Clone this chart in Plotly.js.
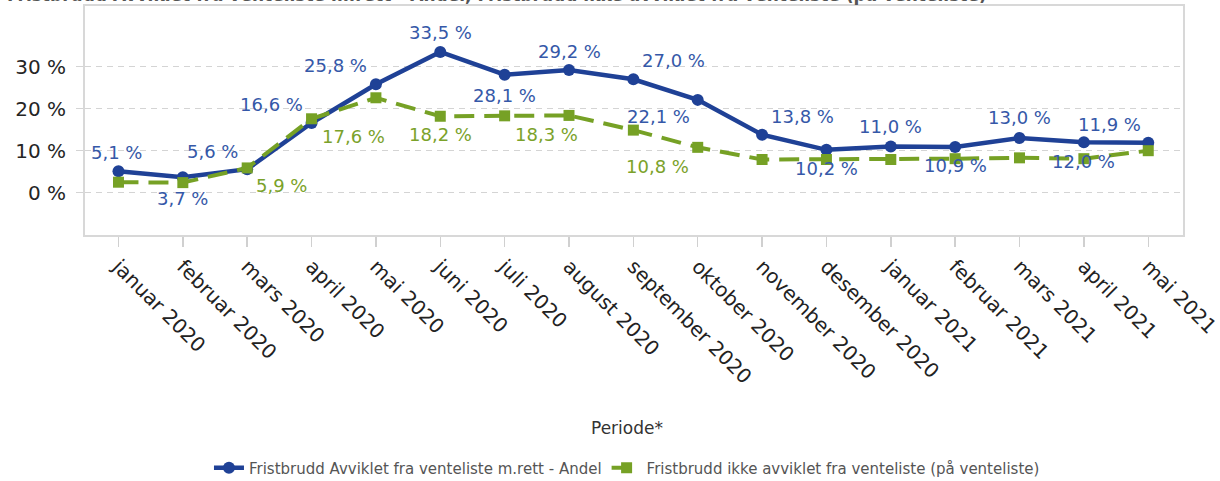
<!DOCTYPE html>
<html>
<head>
<meta charset="utf-8">
<script src="https://cdn.plot.ly/plotly-3.0.1.min.js"></script>
<style>
  html, body { margin: 0; padding: 0; background: #fff; }
  #chart { width: 1220px; height: 481px; }
</style>
</head>
<body>
<div id="chart"></div>
<script>
// Months on the category axis
const periods = [
  'januar 2020', 'februar 2020', 'mars 2020', 'april 2020', 'mai 2020', 'juni 2020',
  'juli 2020', 'august 2020', 'september 2020', 'oktober 2020', 'november 2020',
  'desember 2020', 'januar 2021', 'februar 2021', 'mars 2021', 'april 2021', 'mai 2021'
];

// Share of deadline breaches, percent
const avvikletAndel = [5.1, 3.7, 5.6, 16.6, 25.8, 33.5, 28.1, 29.2, 27.0, 22.1, 13.8, 10.2, 11.0, 10.9, 13.0, 12.0, 11.9];
const ikkeAvviklet  = [2.5, 2.4, 5.9, 17.6, 22.6, 18.2, 18.3, 18.4, 14.9, 10.8, 7.9, 7.9, 7.9, 8.1, 8.3, 8.1, 10.0];

// Months whose green value carries a text label
const ikkeAvvikletLabelled = [2, 3, 5, 6, 9];

const seriesNames = [
  'Fristbrudd Avviklet fra venteliste m.rett - Andel',
  'Fristbrudd ikke avviklet fra venteliste (på venteliste)'
];
const yTicks = [0, 10, 20, 30];
const yTickText = ['0 %', '10 %', '20 %', '30 %'];
const chartTitle = 'Fristbrudd Avviklet fra venteliste m.rett - Andel, Fristbrudd ikke avviklet fra venteliste (på venteliste)';

// Label placement (pixel offsets from each point): [xshift, yshift]
const blueOffsets = [
  [-2, 19], [0, -21], [-35, 18], [-40, 18], [-40, 19], [0, 19], [0, -21], [0, 19], [40, 19],
  [-39, -17], [40, 18], [0, -19], [0, 20], [0, -19], [0, 21], [0, -19], [-39, 18]
];
const greenOffsets = { 2: [34, -18], 3: [42, -18], 5: [0, -18], 6: [42, -19], 9: [-40, -19] };

const BLUE = '#1f4196';
const BLUE_TXT = '#3558a8';
const GREEN = '#76a125';
const GREEN_TXT = '#7ba22a';
const FONT = 'DejaVu Sans, Verdana, sans-serif';

const fmt = v => v.toFixed(1).replace('.', ',') + ' %';

const traces = [
  {
    x: periods, y: avvikletAndel, name: seriesNames[0], type: 'scatter', mode: 'lines+markers',
    line: { color: BLUE, width: 4.5 },
    marker: { color: BLUE, size: 12, symbol: 'circle' },
    hoverinfo: 'skip'
  },
  {
    x: periods, y: ikkeAvviklet, name: seriesNames[1], type: 'scatter', mode: 'lines+markers',
    line: { color: GREEN, width: 4, dash: '20px,10px' },
    marker: { color: GREEN, size: 11, symbol: 'square' },
    hoverinfo: 'skip'
  }
];

const annotations = [];
avvikletAndel.forEach((v, i) => {
  annotations.push({
    xref: 'x', yref: 'y', x: periods[i], y: v, text: fmt(v), showarrow: false,
    xshift: blueOffsets[i][0], yshift: blueOffsets[i][1],
    font: { family: FONT, size: 18, color: BLUE_TXT }
  });
});
ikkeAvvikletLabelled.forEach(i => {
  annotations.push({
    xref: 'x', yref: 'y', x: periods[i], y: ikkeAvviklet[i], text: fmt(ikkeAvviklet[i]), showarrow: false,
    xshift: greenOffsets[i][0], yshift: greenOffsets[i][1],
    font: { family: FONT, size: 18, color: GREEN_TXT }
  });
});
// Axis title
annotations.push({
  xref: 'paper', yref: 'paper', x: 0.4936, y: -0.843, text: 'Periode*', showarrow: false,
  xanchor: 'center', yanchor: 'middle',
  font: { family: FONT, size: 17, color: '#333' }
});
// Chart heading, sitting at the very top edge
annotations.push({
  xref: 'paper', yref: 'paper', x: -0.073, y: 1, xanchor: 'left', yanchor: 'bottom', yshift: -1,
  text: '<b>' + chartTitle + '</b>', showarrow: false,
  font: { family: FONT, size: 17, color: '#555' }
});

const layout = {
  width: 1220, height: 481,
  margin: { l: 85, r: 37, t: 6, b: 246, pad: 0, autoexpand: false },
  paper_bgcolor: '#fff', plot_bgcolor: '#fff',
  showlegend: true,
  legend: {
    orientation: 'h', x: 0.4936, xanchor: 'center', y: -1.017, yanchor: 'middle',
    font: { family: FONT, size: 15, color: '#555' },
    itemwidth: 30, tracegroupgap: 0
  },
  xaxis: {
    type: 'category', range: [-0.52, 16.54], fixedrange: true,
    showline: true, mirror: true, linecolor: '#d8d8d8', linewidth: 2,
    showgrid: false, zeroline: false,
    ticks: 'outside', ticklen: 10, tickwidth: 1.5, tickcolor: '#d0d0d0',
    tickangle: 45, automargin: false,
    tickfont: { family: FONT, size: 20, color: '#222' }
  },
  yaxis: {
    range: [-10.07, 44.45], fixedrange: true,
    tickvals: yTicks, ticktext: yTickText,
    showline: true, mirror: true, linecolor: '#d8d8d8', linewidth: 2,
    showgrid: true, gridcolor: '#d4d4d4', gridwidth: 1, griddash: '6px,5px',
    zeroline: false,
    ticks: 'outside', ticklen: 7, tickwidth: 1, tickcolor: '#d4d4d4',
    ticklabelstandoff: 6, automargin: false,
    tickfont: { family: FONT, size: 20, color: '#252525' }
  },
  annotations: annotations
};

Plotly.newPlot('chart', traces, layout, { displayModeBar: false, staticPlot: true });
</script>
</body>
</html>
